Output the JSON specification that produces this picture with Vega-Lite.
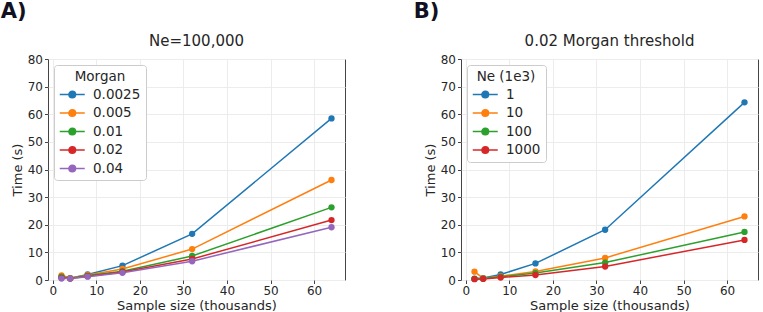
{
  "$schema": "https://vega.github.io/schema/vega-lite/v6.json",
  "padding": {"left": 0, "top": 0, "right": 0, "bottom": 0},
  "spacing": 67,
  "config": {
    "font": "DejaVu Sans",
    "view": {"stroke": "#444444", "strokeWidth": 1},
    "axis": {
      "domain": false,
      "grid": true,
      "gridColor": "#ececec",
      "gridWidth": 1,
      "tickColor": "#444444",
      "tickSize": 3.5,
      "labelFontSize": 12,
      "labelColor": "#262626",
      "labelPadding": 2,
      "titleFontSize": 13,
      "titleFontWeight": "normal",
      "titleColor": "#262626"
    },
    "legend": {
      "orient": "top-left",
      "offset": 6,
      "fillColor": "white",
      "strokeColor": "#cccccc",
      "cornerRadius": 3,
      "padding": 5,
      "titleFontSize": 13.5,
      "titleFontWeight": "normal",
      "titleColor": "#262626",
      "titleAnchor": "middle",
      "titlePadding": 4,
      "labelFontSize": 13.5,
      "labelColor": "#262626",
      "labelOffset": 20,
      "rowPadding": 4.5,
      "symbolType": "M-1,0H3M0.47,0A0.53,0.53,0,1,1,1.53,0A0.53,0.53,0,1,1,0.47,0Z",
      "symbolSize": 156.25,
      "symbolStrokeWidth": 1.5
    },
    "title": {"fontSize": 15, "fontWeight": "normal", "color": "#262626", "offset": 4}
  },
  "hconcat": [
    {
      "title": {"text": "A)", "anchor": "start", "fontSize": 21, "fontWeight": "bold", "color": "#111122", "dx": -10, "offset": 12},
      "vconcat": [
        {
          "title": "Ne=100,000",
          "width": 297,
          "height": 221,
          "data": {
            "values": [
              {"Morgan": "0.0025", "n": 2, "t": 1.0},
              {"Morgan": "0.0025", "n": 4, "t": 0.6},
              {"Morgan": "0.0025", "n": 8, "t": 2.0},
              {"Morgan": "0.0025", "n": 16, "t": 5.2},
              {"Morgan": "0.0025", "n": 32, "t": 16.7},
              {"Morgan": "0.0025", "n": 64, "t": 58.5},
              {"Morgan": "0.005", "n": 2, "t": 1.7},
              {"Morgan": "0.005", "n": 4, "t": 0.7},
              {"Morgan": "0.005", "n": 8, "t": 1.8},
              {"Morgan": "0.005", "n": 16, "t": 4.0},
              {"Morgan": "0.005", "n": 32, "t": 11.2},
              {"Morgan": "0.005", "n": 64, "t": 36.2},
              {"Morgan": "0.01", "n": 2, "t": 1.2},
              {"Morgan": "0.01", "n": 4, "t": 0.6},
              {"Morgan": "0.01", "n": 8, "t": 1.6},
              {"Morgan": "0.01", "n": 16, "t": 3.2},
              {"Morgan": "0.01", "n": 32, "t": 8.7},
              {"Morgan": "0.01", "n": 64, "t": 26.3},
              {"Morgan": "0.02", "n": 2, "t": 0.8},
              {"Morgan": "0.02", "n": 4, "t": 0.5},
              {"Morgan": "0.02", "n": 8, "t": 1.4},
              {"Morgan": "0.02", "n": 16, "t": 2.9},
              {"Morgan": "0.02", "n": 32, "t": 7.6},
              {"Morgan": "0.02", "n": 64, "t": 21.7},
              {"Morgan": "0.04", "n": 2, "t": 0.5},
              {"Morgan": "0.04", "n": 4, "t": 0.5},
              {"Morgan": "0.04", "n": 8, "t": 1.2},
              {"Morgan": "0.04", "n": 16, "t": 2.6},
              {"Morgan": "0.04", "n": 32, "t": 6.8},
              {"Morgan": "0.04", "n": 64, "t": 19.1}
            ]
          },
          "mark": {"type": "line", "strokeWidth": 1.5, "point": {"filled": true, "size": 40, "opacity": 1}},
          "encoding": {
            "x": {"field": "n", "type": "quantitative", "title": "Sample size (thousands)",
                  "scale": {"domain": [-1.1, 67.1], "nice": false, "zero": false},
                  "axis": {"values": [0, 10, 20, 30, 40, 50, 60], "titlePadding": 3}},
            "y": {"field": "t", "type": "quantitative", "title": "Time (s)",
                  "scale": {"domain": [0, 80], "nice": false},
                  "axis": {"values": [0, 10, 20, 30, 40, 50, 60, 70, 80], "titlePadding": 3}},
            "color": {"field": "Morgan", "type": "nominal", "title": "Morgan",
                      "scale": {"domain": ["0.0025", "0.005", "0.01", "0.02", "0.04"],
                                "range": ["#1f77b4", "#ff7f0e", "#2ca02c", "#d62728", "#9467bd"]},
                      "legend": {"encode": {"symbols": {"update": {"fill": {"scale": "color", "field": "value"}}}}}}
          }
        }
      ]
    },
    {
      "title": {"text": "B)", "anchor": "start", "fontSize": 21, "fontWeight": "bold", "color": "#111122", "dx": -10, "offset": 12},
      "vconcat": [
        {
          "title": "0.02 Morgan threshold",
          "width": 297,
          "height": 221,
          "data": {
            "values": [
              {"Ne": "1", "n": 2, "t": 0.5},
              {"Ne": "1", "n": 4, "t": 0.7},
              {"Ne": "1", "n": 8, "t": 2.0},
              {"Ne": "1", "n": 16, "t": 6.0},
              {"Ne": "1", "n": 32, "t": 18.2},
              {"Ne": "1", "n": 64, "t": 64.3},
              {"Ne": "10", "n": 2, "t": 3.0},
              {"Ne": "10", "n": 4, "t": 0.6},
              {"Ne": "10", "n": 8, "t": 1.4},
              {"Ne": "10", "n": 16, "t": 3.1},
              {"Ne": "10", "n": 32, "t": 8.0},
              {"Ne": "10", "n": 64, "t": 23.0},
              {"Ne": "100", "n": 2, "t": 0.4},
              {"Ne": "100", "n": 4, "t": 0.5},
              {"Ne": "100", "n": 8, "t": 1.2},
              {"Ne": "100", "n": 16, "t": 2.5},
              {"Ne": "100", "n": 32, "t": 6.3},
              {"Ne": "100", "n": 64, "t": 17.4},
              {"Ne": "1000", "n": 2, "t": 0.3},
              {"Ne": "1000", "n": 4, "t": 0.4},
              {"Ne": "1000", "n": 8, "t": 0.9},
              {"Ne": "1000", "n": 16, "t": 1.8},
              {"Ne": "1000", "n": 32, "t": 4.9},
              {"Ne": "1000", "n": 64, "t": 14.5}
            ]
          },
          "mark": {"type": "line", "strokeWidth": 1.5, "point": {"filled": true, "size": 40, "opacity": 1}},
          "encoding": {
            "x": {"field": "n", "type": "quantitative", "title": "Sample size (thousands)",
                  "scale": {"domain": [-1.1, 67.1], "nice": false, "zero": false},
                  "axis": {"values": [0, 10, 20, 30, 40, 50, 60], "titlePadding": 3}},
            "y": {"field": "t", "type": "quantitative", "title": "Time (s)",
                  "scale": {"domain": [0, 80], "nice": false},
                  "axis": {"values": [0, 10, 20, 30, 40, 50, 60, 70, 80], "titlePadding": 3}},
            "color": {"field": "Ne", "type": "nominal", "title": "Ne (1e3)",
                      "scale": {"domain": ["1", "10", "100", "1000"],
                                "range": ["#1f77b4", "#ff7f0e", "#2ca02c", "#d62728"]},
                      "legend": {"encode": {"symbols": {"update": {"fill": {"scale": "color", "field": "value"}}}}}}
          }
        }
      ]
    }
  ],
  "resolve": {"scale": {"color": "independent"}}
}
